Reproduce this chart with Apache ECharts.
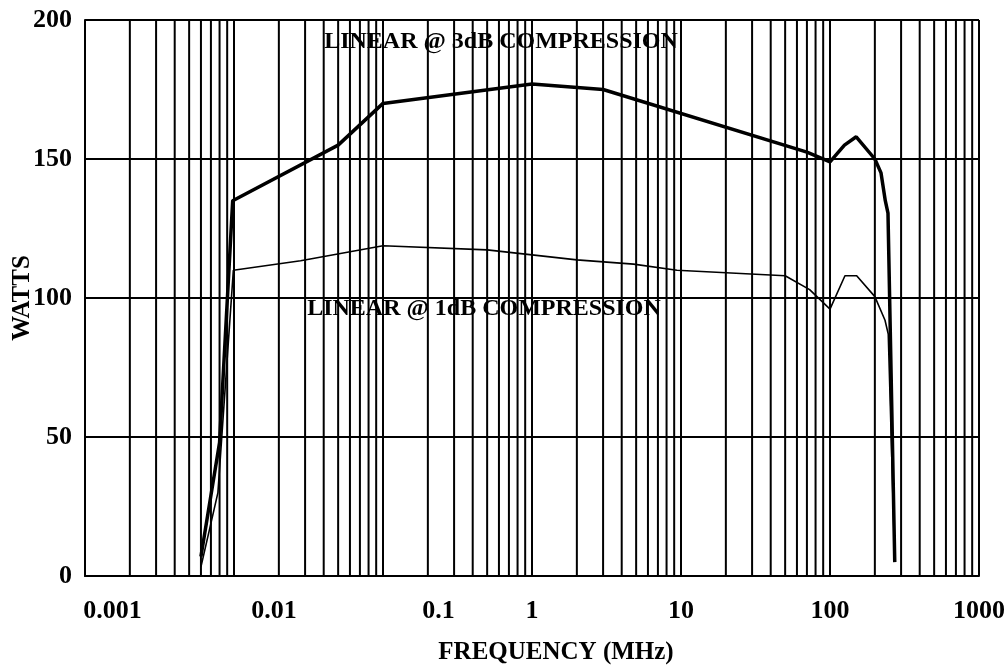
<!DOCTYPE html>
<html>
<head>
<meta charset="utf-8">
<script src="https://cdn.jsdelivr.net/npm/echarts@6/dist/echarts.min.js"></script>
<style>
html,body{margin:0;padding:0;background:#fff;}
#chart{width:1008px;height:667px;}
</style>
</head>
<body>
<div id="chart"></div>
<script>
// ---- data ----
var tickLabels = ['0.001', '0.01', '0.1', '1', '10', '100', '1000'];
var yTicks = [0, 50, 100, 150, 200];

var freq3dB  = [0.006, 0.008, 0.0098, 0.05, 0.1, 1, 3, 70, 100, 125, 150, 200, 220, 235, 245, 272];
var watts3dB = [7, 48, 135, 155, 170, 177, 175, 152.5, 149, 155, 158, 150, 145, 135, 130.5, 5];

var freq1dB  = [0.006, 0.0078, 0.0099, 0.028, 0.1, 0.5, 1, 2, 4.8, 9.4, 50, 73, 100, 126, 151, 200, 234, 246, 272];
var watts1dB = [3.3, 30, 110, 113.4, 118.8, 117.3, 115.5, 113.7, 112.2, 110, 108, 103, 96, 108, 108, 100.5, 92, 87, 5];

var label3dB = 'LINEAR @ 3dB COMPRESSION';
var label1dB = 'LINEAR @ 1dB COMPRESSION';
var xTitle = 'FREQUENCY (MHz)';
var yTitle = 'WATTS';

// ---- build ----
function pairs(xs, ys) { return xs.map(function (x, i) { return [x, ys[i]]; }); }

var FONT = '"Liberation Serif", "Times New Roman", serif';
var yMin = yTicks[0], yMax = yTicks[yTicks.length - 1];

// minor log grid lines (2..9 in every decade), drawn as a line series with gaps
var minorGrid = [];
for (var d = -3; d < 3; d++) {
  for (var m = 2; m <= 9; m++) {
    var v = m * Math.pow(10, d);
    minorGrid.push([v, yMin], [v, yMax], ['-', '-']);
  }
}
// label shifts (reference draws the fractional labels offset to the right)
var labelShift = { 0: 55, 1: 80, 2: 111 };

var chart = echarts.init(document.getElementById('chart'), null, { renderer: 'canvas' });
chart.setOption({
  animation: false,
  backgroundColor: '#fff',
  grid: { left: 85, right: 29, top: 20, bottom: 91, containLabel: false, outerBoundsMode: 'none' },
  xAxis: {
    type: 'log',
    logBase: 10,
    min: 0.001,
    max: 1000,
    name: xTitle,
    nameLocation: 'middle',
    nameGap: 64,
    nameMoveOverlap: false,
    nameTextStyle: { fontFamily: FONT, fontWeight: 'bold', fontSize: 25, color: '#000', padding: [0, 0, 0, 48] },
    axisLine: { show: true, lineStyle: { color: '#000', width: 2 } },
    axisTick: { show: false },
    splitLine: { show: true, lineStyle: { color: '#000', width: 2 } },
    axisLabel: {
      margin: 22,
      hideOverlap: false,
      showMinLabel: true,
      showMaxLabel: true,
      formatter: function (v) {
        var i = Math.round(Math.log10(v)) + 3;
        var t = tickLabels[i];
        if (t === undefined) return '';
        return labelShift[i] ? '{s' + i + '|' + t + '}' : '{n|' + t + '}';
      },
      rich: {
        n:  { fontFamily: FONT, fontWeight: 'bold', fontSize: 26, color: '#000' },
        s0: { fontFamily: FONT, fontWeight: 'bold', fontSize: 26, color: '#000', padding: [0, 0, 0, 55] },
        s1: { fontFamily: FONT, fontWeight: 'bold', fontSize: 26, color: '#000', padding: [0, 0, 0, 80] },
        s2: { fontFamily: FONT, fontWeight: 'bold', fontSize: 26, color: '#000', padding: [0, 0, 0, 111] }
      }
    }
  },
  yAxis: {
    type: 'value',
    min: yMin,
    max: yMax,
    interval: 50,
    name: yTitle,
    nameLocation: 'middle',
    nameGap: 50,
    nameRotate: 90,
    nameMoveOverlap: false,
    nameTextStyle: { fontFamily: FONT, fontWeight: 'bold', fontSize: 25, color: '#000' },
    axisLine: { show: true, lineStyle: { color: '#000', width: 2 } },
    axisTick: { show: false },
    splitLine: { show: true, lineStyle: { color: '#000', width: 2 } },
    axisLabel: {
      margin: 13,
      fontFamily: FONT, fontWeight: 'bold', fontSize: 26, color: '#000',
      padding: [8, 0, 0, 0]
    }
  },
  series: [
    {
      type: 'line',
      name: 'minor grid',
      data: minorGrid,
      symbol: 'none',
      connectNulls: false,
      silent: true,
      lineStyle: { color: '#000', width: 2 },
      z: 1
    },
    {
      type: 'line',
      name: '1dB',
      data: pairs(freq1dB, watts1dB),
      symbol: 'none',
      lineStyle: { color: '#000', width: 1.6 },
      z: 3
    },
    {
      type: 'line',
      name: '3dB',
      data: pairs(freq3dB, watts3dB),
      symbol: 'none',
      lineStyle: { color: '#000', width: 3.5 },
      z: 4
    }
  ],
  graphic: [
    { type: 'text', x: 501, y: 42, z: 10,
      style: { text: label3dB, font: 'bold 24px ' + FONT, fill: '#000', align: 'center', verticalAlign: 'middle' } },
    { type: 'text', x: 484, y: 309, z: 10,
      style: { text: label1dB, font: 'bold 24px ' + FONT, fill: '#000', align: 'center', verticalAlign: 'middle' } }
  ]
});
</script>
</body>
</html>
